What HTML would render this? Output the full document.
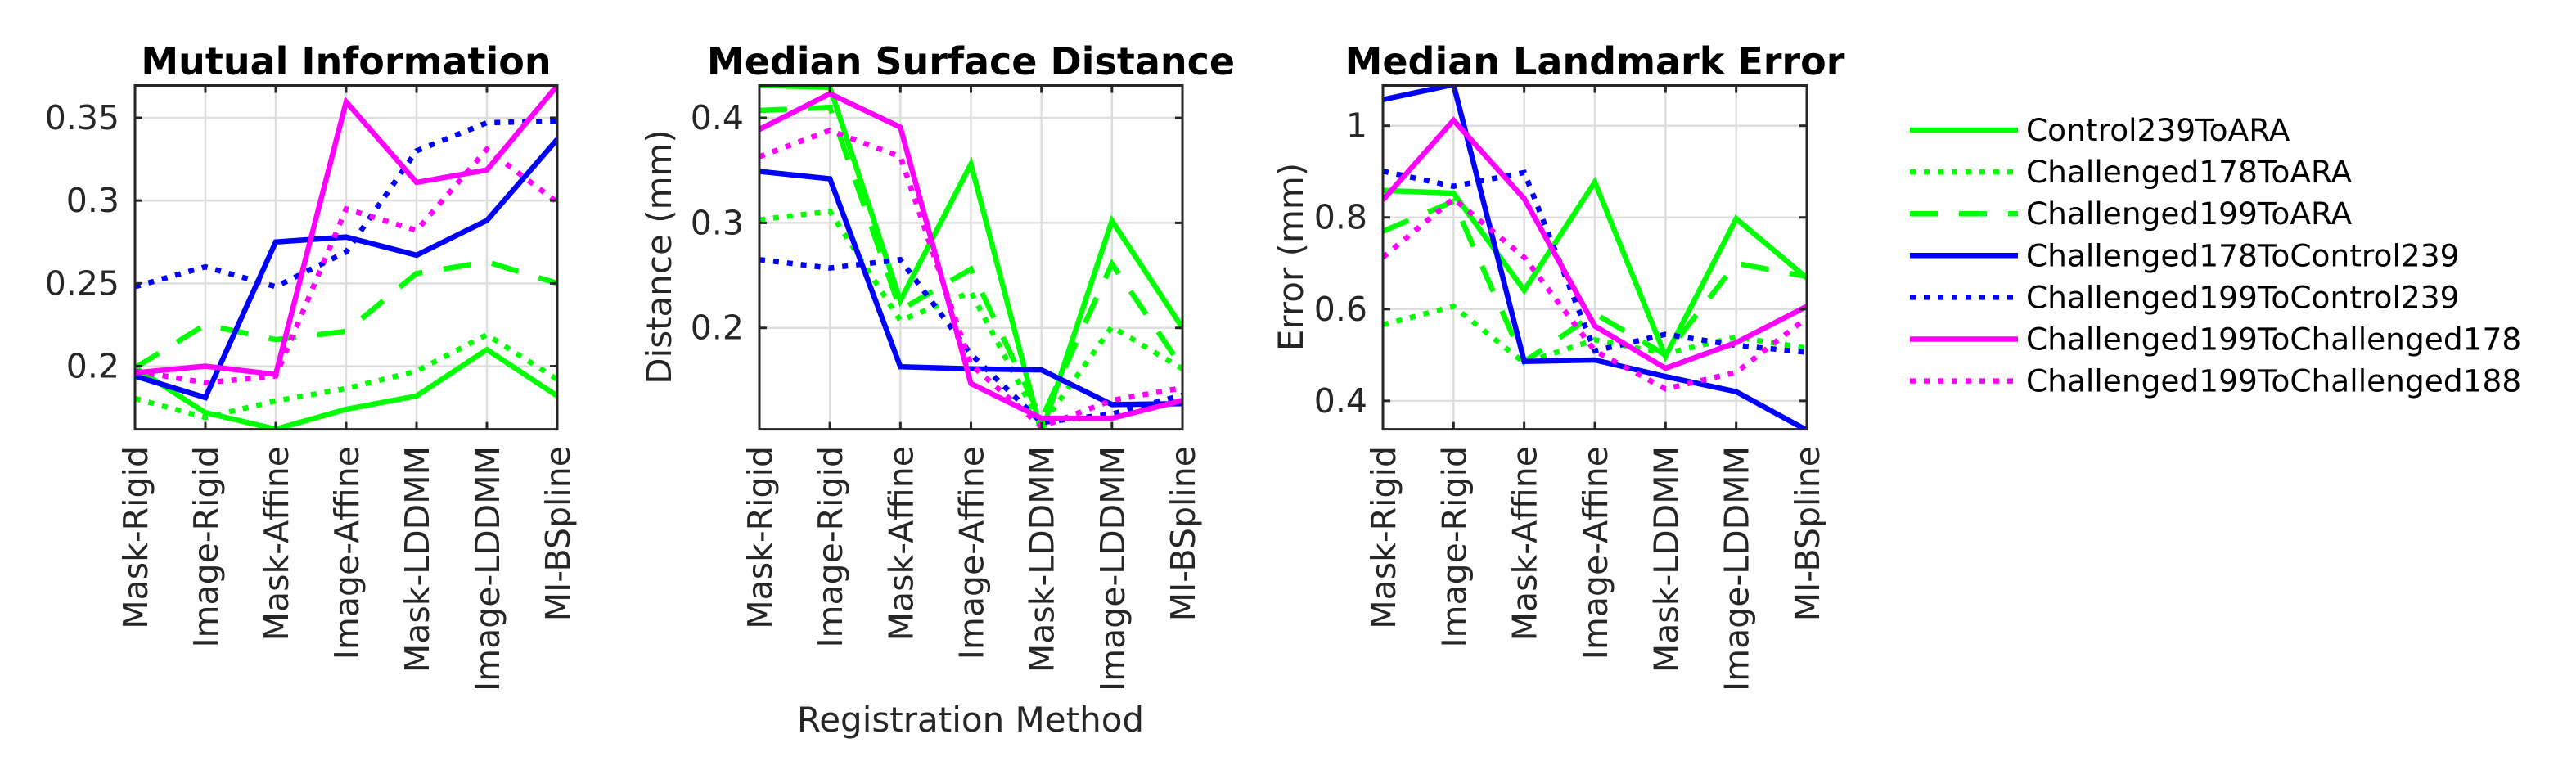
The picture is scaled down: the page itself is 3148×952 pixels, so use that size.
<!DOCTYPE html>
<html><head><meta charset="utf-8"><style>
html,body{margin:0;padding:0;background:#fff;}
svg{display:block;font-family:"DejaVu Sans","Liberation Sans",sans-serif;}
</style></head><body>
<svg id="chart" width="3148" height="952" viewBox="0 0 3148 952" xmlns="http://www.w3.org/2000/svg"></svg>
<script>
const categories = ["Mask-Rigid","Image-Rigid","Mask-Affine","Image-Affine","Mask-LDDMM","Image-LDDMM","MI-BSpline"];
const seriesNames = ["Control239ToARA","Challenged178ToARA","Challenged199ToARA","Challenged178ToControl239","Challenged199ToControl239","Challenged199ToChallenged178","Challenged199ToChallenged188"];
const seriesColors = ["#00ff00","#00ff00","#00ff00","#0000ff","#0000ff","#ff00ff","#ff00ff"];
const seriesStyles = ["solid","dotted","dashed","solid","dotted","solid","dotted"];

const miValues = [
  [0.199,0.172,0.162,0.174,0.182,0.210,0.182],
  [0.1805,0.169,0.179,0.1865,0.197,0.219,0.192],
  [0.199,0.225,0.216,0.221,0.256,0.263,0.250],
  [0.194,0.181,0.275,0.278,0.267,0.288,0.337],
  [0.248,0.260,0.248,0.269,0.330,0.347,0.348],
  [0.196,0.200,0.195,0.3596,0.311,0.3185,0.3695],
  [0.197,0.190,0.194,0.295,0.282,0.331,0.299]
];
const msdValues = [
  [0.431,0.429,0.226,0.356,0.100,0.302,0.200],
  [0.303,0.311,0.207,0.234,0.107,0.201,0.161],
  [0.407,0.410,0.217,0.256,0.113,0.261,0.162],
  [0.349,0.342,0.163,0.161,0.160,0.127,0.128],
  [0.265,0.257,0.265,0.175,0.110,0.118,0.136],
  [0.389,0.423,0.391,0.147,0.114,0.114,0.131],
  [0.363,0.388,0.363,0.165,0.106,0.131,0.143]
];
const mleValues = [
  [0.859,0.853,0.641,0.877,0.497,0.797,0.668],
  [0.566,0.606,0.483,0.533,0.503,0.539,0.515],
  [0.770,0.835,0.485,0.590,0.500,0.700,0.671],
  [1.057,1.090,0.486,0.489,0.453,0.420,0.336],
  [0.901,0.868,0.898,0.509,0.545,0.521,0.506],
  [0.838,1.012,0.841,0.563,0.471,0.527,0.606],
  [0.713,0.841,0.713,0.509,0.426,0.462,0.581]
];
const miTicks = [0.2,0.25,0.3,0.35];
const miTickLabels = ["0.2","0.25","0.3","0.35"];
const msdTicks = [0.2,0.3,0.4];
const msdTickLabels = ["0.2","0.3","0.4"];
const mleTicks = [0.4,0.6,0.8,1.0];
const mleTickLabels = ["0.4","0.6","0.8","1"];

const NS = "http://www.w3.org/2000/svg";
const svg = document.getElementById("chart");
function mk(tag, attrs, parent){
  const e = document.createElementNS(NS, tag);
  for (const k in attrs) e.setAttribute(k, attrs[k]);
  (parent||svg).appendChild(e);
  return e;
}
const TXT = "#262626";
const LW = 6.5;
const dashFor = {solid:"none", dotted:"7 10", dashed:"34 26"};

const panels = [
  {key:"mi", title:"Mutual Information", ylabel:null, x0:165, x1:681, ymin:0.1619, ymax:0.3695, values:miValues, ticks:miTicks, tickLabels:miTickLabels},
  {key:"msd", title:"Median Surface Distance", ylabel:"Distance (mm)", ylabelX:805, x0:928, x1:1445, ymin:0.1035, ymax:0.4308, values:msdValues, ticks:msdTicks, tickLabels:msdTickLabels},
  {key:"mle", title:"Median Landmark Error", ylabel:"Error (mm)", ylabelX:1577, x0:1690, x1:2208, ymin:0.338, ymax:1.0878, values:mleValues, ticks:mleTicks, tickLabels:mleTickLabels}
];
const Y0 = 104.5, Y1 = 524.6;

panels.forEach((p, pi) => {
  const g = mk("g", {});
  
  
  const xs = i => p.x0 + i * (p.x1 - p.x0) / (categories.length - 1);
  const ys = v => Y1 - (v - p.ymin) / (p.ymax - p.ymin) * (Y1 - Y0);
  categories.forEach((c, i) => {
    const l = mk("line", {x1:xs(i), x2:xs(i), y1:Y0, y2:Y1, stroke:"#dedede", "stroke-width":2.5}, g);
    
    
  });
  p.ticks.forEach(t => {
    const l = mk("line", {x1:p.x0, x2:p.x1, y1:ys(t), y2:ys(t), stroke:"#dedede", "stroke-width":2.5}, g);
    
    
  });
  const cp = mk("clipPath", {id:"clip"+pi}, g);
  mk("rect", {x:p.x0, y:Y0, width:p.x1-p.x0, height:Y1-Y0}, cp);
  const lg = mk("g", {"clip-path":"url(#clip"+pi+")"}, g);
  p.values.forEach((vals, si) => {
    const pts = vals.map((v, i) => xs(i).toFixed(1) + "," + ys(v).toFixed(1)).join(" ");
    const pl = mk("polyline", {points:pts, fill:"none", stroke:seriesColors[si], "stroke-width":LW, "stroke-linejoin":"miter", "stroke-dasharray":dashFor[seriesStyles[si]]}, lg);
    
    
  });
  const box = mk("rect", {x:p.x0, y:Y0, width:p.x1-p.x0, height:Y1-Y0, fill:"none", stroke:TXT, "stroke-width":3}, g);
  
  
  categories.forEach((c, i) => {
    mk("line", {x1:xs(i), x2:xs(i), y1:Y1, y2:Y1-9, stroke:TXT, "stroke-width":3}, g);
    mk("line", {x1:xs(i), x2:xs(i), y1:Y0, y2:Y0+9, stroke:TXT, "stroke-width":3}, g);
    const t = mk("text", {x:0, y:0, transform:`translate(${xs(i)+15},545) rotate(-90)`, "text-anchor":"end", "font-size":41, fill:TXT}, g);
    t.textContent = c;
    
    
  });
  p.ticks.forEach((tv, ti) => {
    mk("line", {x1:p.x0, x2:p.x0+9, y1:ys(tv), y2:ys(tv), stroke:TXT, "stroke-width":3}, g);
    mk("line", {x1:p.x1, x2:p.x1-9, y1:ys(tv), y2:ys(tv), stroke:TXT, "stroke-width":3}, g);
    const t = mk("text", {x:p.x0-19, y:ys(tv)+14, "text-anchor":"end", "font-size":41, fill:TXT}, g);
    t.textContent = p.tickLabels[ti];
    
    
  });
  const tt = mk("text", {x:(p.x0+p.x1)/2, y:91, "text-anchor":"middle", "font-size":46, "font-weight":"bold", fill:"#000"}, g);
  tt.textContent = p.title;
  
  
  if (p.ylabel) {
    const yl = mk("text", {x:0, y:0, transform:`translate(${p.ylabelX+15},314) rotate(-90)`, "text-anchor":"middle", "font-size":42, fill:TXT}, g);
    yl.textContent = p.ylabel;
    
    
  }
});

const xl = mk("text", {x:1186, y:894, "text-anchor":"middle", "font-size":42, fill:TXT});
xl.textContent = "Registration Method";



const lgG = mk("g", {});


seriesNames.forEach((n, si) => {
  const y = 159 + si * 51.1;
  const e = mk("g", {}, lgG);
  
  
  mk("line", {x1:2334, x2:2466, y1:y, y2:y, stroke:seriesColors[si], "stroke-width":LW, "stroke-dasharray":dashFor[seriesStyles[si]]}, e);
  const t = mk("text", {x:2476, y:y+13, "font-size":37.5, fill:"#000"}, e);
  t.textContent = n;
});
</script>
</body></html>
